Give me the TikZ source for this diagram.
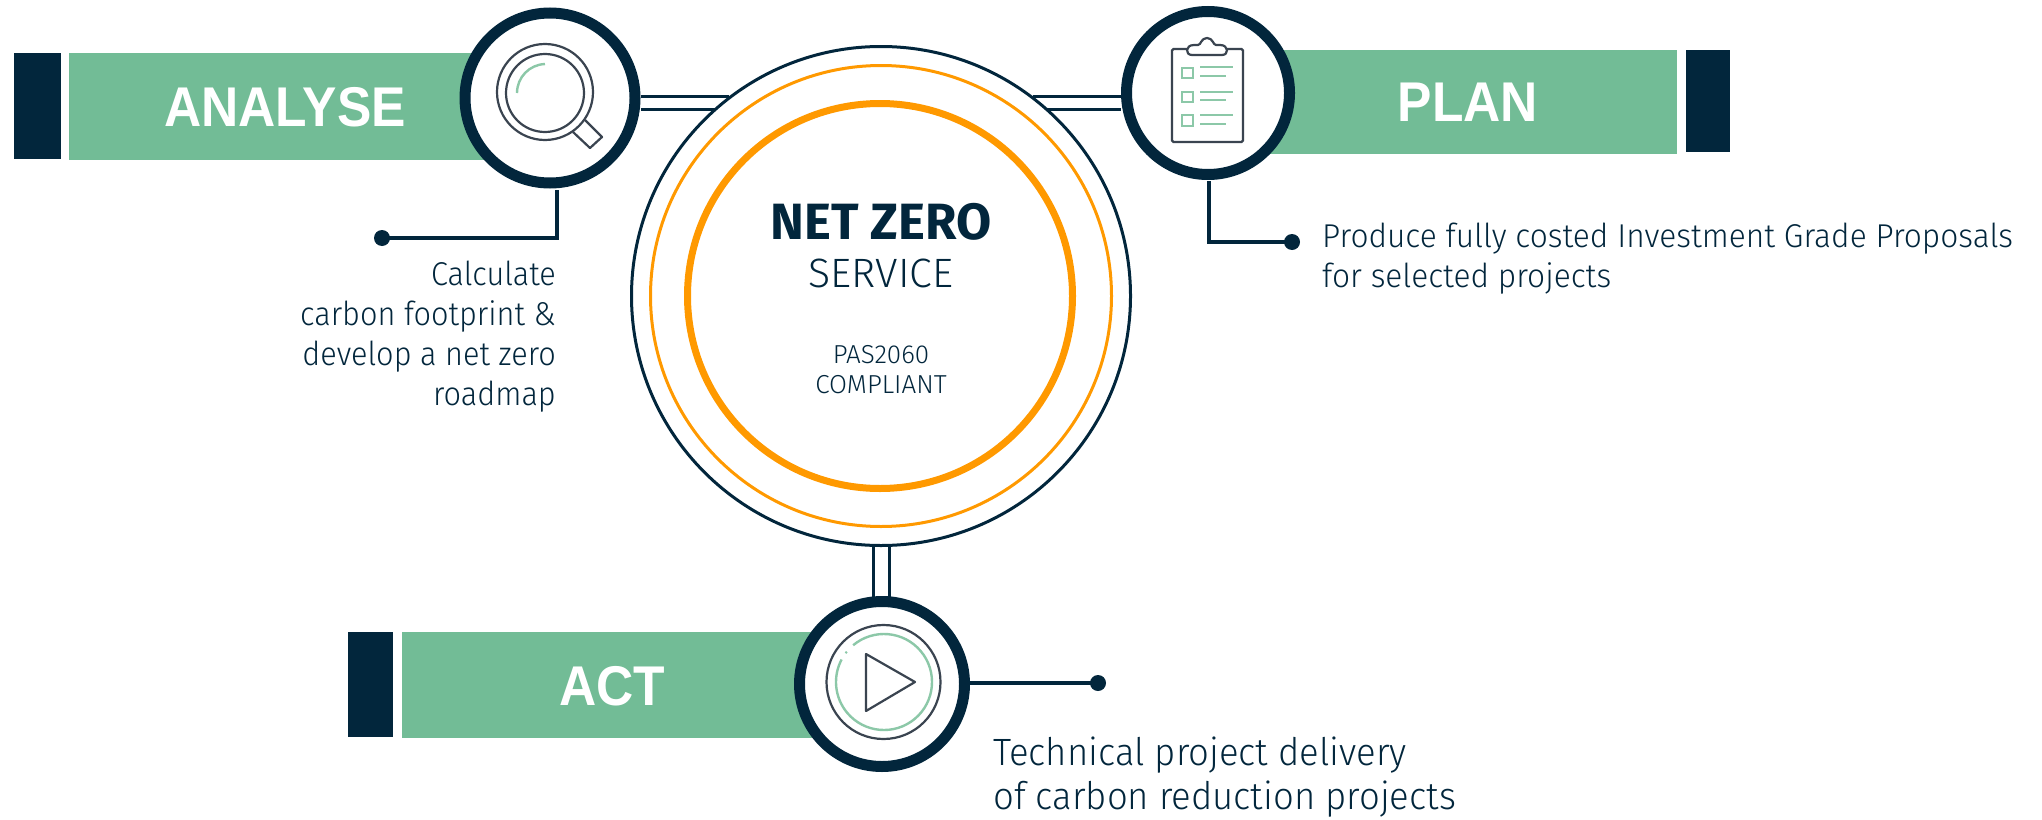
\documentclass[tikz,border=0pt]{standalone}
\usepackage{fontspec}
\setmainfont{Fira Sans Light}[FakeStretch=0.96]
\newfontfamily\plainfont{Fira Sans Light}
\newfontfamily\narrowfont{Fira Sans Light}[FakeStretch=0.93]
\newfontfamily\headfont{Fira Sans}[UprightFont=* Bold]
\newfontfamily\bandfont{Liberation Sans}[UprightFont=* Bold,FakeStretch=0.92]
\definecolor{navy}{HTML}{02263C}
\definecolor{band}{HTML}{72BC96}
\definecolor{amber}{HTML}{FF9900}
\definecolor{icon}{HTML}{3A4450}
\definecolor{iconband}{HTML}{8CC8A8}
\tikzset{
  x=1pt,y=-1pt,
  ring/.style={circle,draw=navy,line width=11pt,fill=white,minimum size=165pt,inner sep=0pt},
  bandbox/.style={fill=band,draw=none},
  capbox/.style={fill=navy,draw=none},
  bandtext/.style={text=white,font=\fontsize{56}{56}\selectfont\bandfont,anchor=center,inner sep=0pt},
  leader/.style={draw=navy,line width=3.2pt},
  dotnode/.style={circle,fill=navy,minimum size=16pt,inner sep=0pt},
  rail/.style={draw=navy,line width=3pt},
  note/.style={text=navy,font=\fontsize{33}{40}\selectfont,inner sep=0pt,align=left},
  iconline/.style={draw=icon,line width=2.2pt},
  icongreen/.style={draw=iconband,line width=2.4pt},
}
\begin{document}
\begin{tikzpicture}
\useasboundingbox (0,0) rectangle (2042,819);
% bands
\fill[capbox] (14,53) rectangle (61,159);
\fill[bandbox] (69,53) rectangle (500,160);
\fill[capbox] (1686,50) rectangle (1730,152);
\fill[bandbox] (1250,50) rectangle (1677,154);
\fill[capbox] (348,632) rectangle (393,737);
\fill[bandbox] (402,632) rectangle (830,738);
\node[bandtext] (ana) at (285,107) {ANALYSE};
\node[bandtext] (pla) at (1468,102.5) {PLAN};
\node[bandtext] (act) at (612.5,686.5) {ACT};
% central circles
\node[circle,draw=navy,line width=3pt,minimum size=499pt,inner sep=0pt] (outer) at (881,296) {};
\node[circle,draw=amber,line width=3pt,minimum size=461pt,inner sep=0pt] (mid) at (881,296) {};
\node[circle,draw=amber,line width=7pt,minimum size=385pt,inner sep=0pt] (inner) at (880,296) {};
% hub nodes
\node[ring,minimum size=170pt] (hana) at (550,98) {};
\node[ring,minimum size=163pt] (hpla) at (1208,93) {};
\node[ring,minimum size=165pt] (hact) at (882,684) {};
% rails
\draw[rail] (hana.east |- 0,96) -- (729,96);
\draw[rail] (hana.east |- 0,109) -- (715,109);
\draw[rail] (1033,96) -- (hpla.west |- 0,96);
\draw[rail] (1047,109) -- (hpla.west |- 0,109);
\draw[rail] (873,546) -- (873,598);
\draw[rail] (889,546) -- (889,598);
% leaders
\node[dotnode] (dana) at (382,238) {};
\node[dotnode] (dpla) at (1292,242) {};
\node[dotnode] (dact) at (1098,683) {};
\draw[leader] (dana.center) -| (557,190);
\draw[leader] (dpla.center) -| (1209,181);
\draw[leader] (970,683) -- (dact.center);
% magnifier
\draw[iconline] (545,92) circle (48);
\draw[iconline] (545,93) circle (39);
\draw[icongreen] (517,93) arc (180:268:29);
\draw[iconline,line join=round] (585,120) -- (602,137) -- (590,148) -- (573,132);
% clipboard
\draw[iconline,rounded corners=1.5pt] (1172,49) rectangle (1243,142);
\draw[iconline,fill=white] (1192,55) -- (1222,55) .. controls (1229,55) and (1229,45) .. (1220,45) -- (1216,45) .. controls (1213,45) and (1213,38) .. (1207,38) .. controls (1201,38) and (1201,45) .. (1198,45) -- (1194,45) .. controls (1185,45) and (1185,55) .. (1192,55) -- cycle;
\foreach \ya/\yb/\yc/\yd in {68/78/67/76,92/102/92/100,115/126/115/124}{
  \draw[icongreen] (1182,\ya) rectangle (1193,\yb);
  \draw[icongreen] (1200,\yc) -- (1233,\yc);
  \draw[icongreen] (1200,\yd) -- (1226,\yd);
}
% play
\draw[iconline] (883.5,682) circle (57);
\draw[icongreen] (884,682) ++(230:48) arc (230:568:48);
\fill[iconband] (884,682) ++(218:48) circle (1.4);
\draw[iconline,line join=round] (866,654) -- (915,682) -- (866,711) -- cycle;
% center text
\node[text=navy,font=\fontsize{51}{51}\selectfont\headfont,inner sep=0pt] (nz) at (881,221.5) {NET ZERO};
\node[text=navy,font=\fontsize{41}{41}\selectfont\plainfont,inner sep=0pt] (sv) at (881,273.5) {SERVICE};
\node[text=navy,font=\fontsize{26}{29.5}\selectfont\plainfont,align=center,inner sep=0pt,anchor=base] (pas) at (881,393) {PAS2060\\COMPLIANT};
% notes
\node[note,align=right,anchor=base east,font=\fontsize{33}{40}\selectfont\narrowfont] (n1) at (556,405) {Calculate\\carbon footprint \&\\develop a net zero\\roadmap};
\node[note,anchor=base west] (n2) at (1322,287) {Produce fully costed Investment Grade Proposals\\for selected projects};
\node[note,anchor=base west,font=\fontsize{38}{44}\selectfont] (n3) at (993,809) {Technical project delivery\\of carbon reduction projects};
\end{tikzpicture}
\end{document}
